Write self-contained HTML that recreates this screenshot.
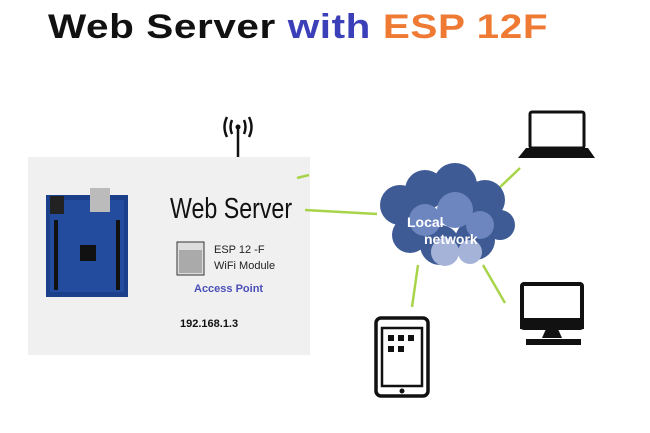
<!DOCTYPE html>
<html><head><style>
body{margin:0;width:650px;height:433px;background:#fff;position:relative;overflow:hidden;font-family:"Liberation Sans",sans-serif}
.a{position:absolute;white-space:nowrap}
</style></head><body>
<div class="a" style="left:48px;top:8px;font-size:34px;font-weight:bold;letter-spacing:0.5px;transform:scaleX(1.19);transform-origin:left"><span style="color:#111">Web Server</span> <span style="color:#3b3fb8">with</span> <span style="color:#ee7a33">ESP 12F</span></div>
<div class="a" style="left:28px;top:157px;width:282px;height:198px;background:#f0f0f0"></div>
<svg class="a" style="left:0;top:0" width="650" height="433">
<g stroke="#111" stroke-width="2.5" fill="none">
<line x1="238" y1="128" x2="238" y2="157"/>
<path d="M232 120 Q229 127 232 134"/><path d="M244 120 Q247 127 244 134"/>
<path d="M227 117 Q222 127 227 137"/><path d="M249 117 Q254 127 249 137"/>
</g><circle cx="238" cy="127" r="2.5" fill="#111"/>
<g stroke="#a8d44a" stroke-width="2.5">
<line x1="297" y1="178" x2="309" y2="175"/>
<line x1="305" y1="210" x2="377" y2="214"/>
<line x1="497" y1="190" x2="520" y2="168"/>
<line x1="418" y1="265" x2="412" y2="307"/>
<line x1="483" y1="265" x2="505" y2="303"/>
</g>
<rect x="46" y="195" width="82" height="102" fill="#1c3f8c"/>
<rect x="50" y="200" width="74" height="92" fill="#234c9e"/>
<rect x="90" y="188" width="20" height="24" fill="#bbb"/>
<rect x="50" y="196" width="14" height="18" fill="#222"/>
<rect x="80" y="245" width="16" height="16" fill="#111"/>
<rect x="54" y="220" width="4" height="70" fill="#111"/>
<rect x="116" y="220" width="4" height="70" fill="#111"/>
<rect x="177" y="242" width="27" height="33" fill="#ddd" stroke="#333"/>
<rect x="179" y="250" width="23" height="23" fill="#aaa"/>
<g fill="#3f5b96">
<circle cx="400" cy="205" r="20"/><circle cx="425" cy="190" r="20"/><circle cx="455" cy="185" r="22"/><circle cx="485" cy="200" r="20"/><circle cx="500" cy="225" r="15"/><circle cx="410" cy="235" r="18"/><circle cx="440" cy="245" r="20"/><circle cx="475" cy="240" r="20"/>
</g>
<g fill="#6e86c0"><circle cx="425" cy="220" r="16"/><circle cx="455" cy="210" r="18"/><circle cx="480" cy="225" r="14"/></g>
<g fill="#a6b3d8"><circle cx="445" cy="252" r="14"/><circle cx="470" cy="252" r="12"/></g>
<rect x="530" y="112" width="54" height="36" rx="2" fill="none" stroke="#111" stroke-width="3"/>
<path d="M526 148 L588 148 L595 158 L518 158 Z" fill="#111"/>
<rect x="522" y="284" width="60" height="44" rx="2" fill="#fff" stroke="#111" stroke-width="4"/>
<rect x="520" y="318" width="64" height="11" fill="#111"/>
<path d="M546 329 L558 329 L562 338 L542 338 Z" fill="#111"/>
<rect x="526" y="339" width="55" height="6" fill="#111"/>
<rect x="376" y="318" width="52" height="78" rx="5" fill="#fff" stroke="#111" stroke-width="3.5"/>
<rect x="382" y="328" width="40" height="58" fill="none" stroke="#111" stroke-width="2.5"/>
<circle cx="402" cy="391" r="2.5" fill="#111"/>
<g fill="#111"><rect x="388" y="335" width="6" height="6"/><rect x="398" y="335" width="6" height="6"/><rect x="408" y="335" width="6" height="6"/><rect x="388" y="346" width="6" height="6"/><rect x="398" y="346" width="6" height="6"/></g>
</svg>
<div class="a" style="left:170px;top:193px;font-size:29px;color:#111;transform:scaleX(0.8);transform-origin:left">Web Server</div>
<div class="a" style="left:214px;top:244px;font-size:11px;color:#222">ESP 12 -F</div>
<div class="a" style="left:214px;top:260px;font-size:11px;color:#222">WiFi Module</div>
<div class="a" style="left:194px;top:283px;font-size:11px;font-weight:bold;color:#4a4fb8">Access Point</div>
<div class="a" style="left:180px;top:318px;font-size:11px;font-weight:bold;color:#111">192.168.1.3</div>
<div class="a" style="left:407px;top:214px;font-size:14px;font-weight:bold;color:#fff">Local</div>
<div class="a" style="left:424px;top:231px;font-size:14px;font-weight:bold;color:#fff">network</div>
</body></html>
